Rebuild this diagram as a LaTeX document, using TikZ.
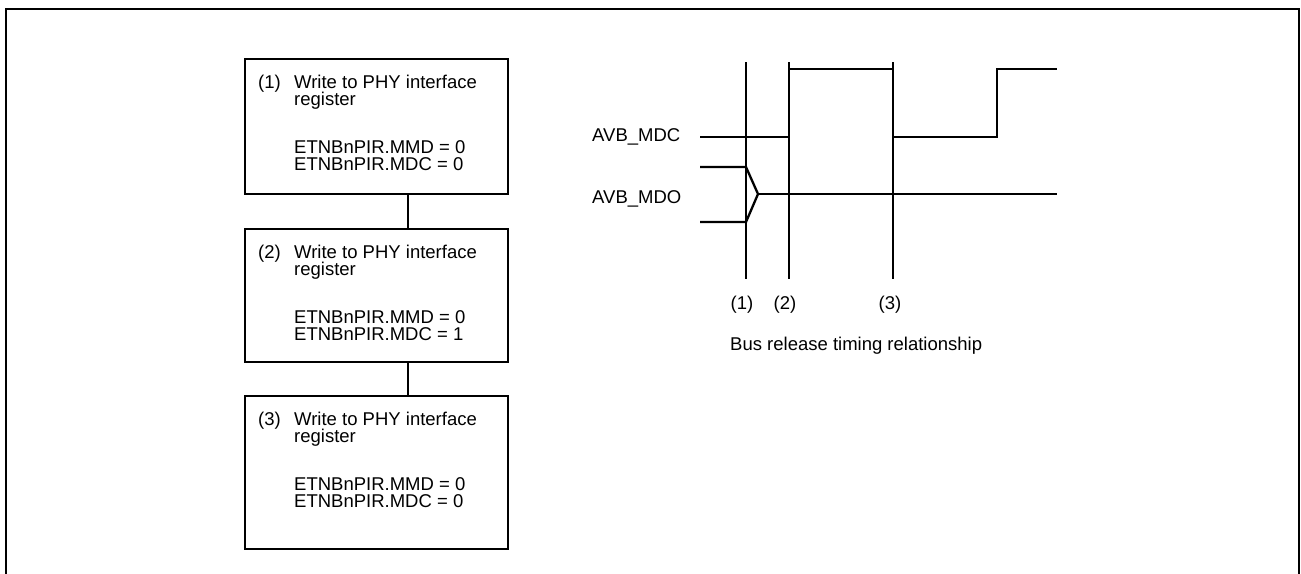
\documentclass[tikz,border=0pt]{standalone}
\usepackage{fontspec}
\setmainfont{Liberation Sans}
\begin{document}
\begin{tikzpicture}[x=1pt,y=-1pt,
  box/.style={draw,line width=2.4pt,minimum width=263pt,inner sep=0pt,outer sep=0pt},
  txt/.style={anchor=base west,inner sep=0pt,font=\fontsize{18.5}{21}\selectfont},
  lbl/.style={anchor=base,inner sep=0pt,font=\fontsize{18.5}{21}\selectfont},
  wave/.style={line width=2.3pt,line join=miter},
  mark line/.style={line width=1.1pt}]
\useasboundingbox (0,0) rectangle (1301,573);
\begin{scope}
\clip (0,0) rectangle (1301,573);
\draw[line width=2.7pt] (6,9) rectangle (1299,620);
\end{scope}

% flow boxes
\node[box,minimum height=135pt] (b1) at (376.5,126.5) {};
\node[box,minimum height=133pt] (b2) at (376.5,295.5) {};
\node[box,minimum height=153pt] (b3) at (376.5,472.5) {};
\draw[line width=2.4pt] ([xshift=31.5pt]b1.south) -- ([xshift=31.5pt]b2.north);
\draw[line width=2.4pt] ([xshift=31.5pt]b2.south) -- ([xshift=31.5pt]b3.north);

\foreach \n/\dy/\v in {1/0/0,2/170/1,3/337/0}{
  \node[txt] (n\n) at (258,88+\dy) {(\n)};
  \node[txt] (w\n) at (294,88+\dy) {Write to PHY interface};
  \node[txt] (r\n) at (294,105+\dy) {register};
  \node[txt] (m\n) at (294,153+\dy) {ETNBnPIR.MMD = 0};
  \node[txt] (c\n) at (294,170+\dy) {ETNBnPIR.MDC = \v};
}

% timing diagram
\draw[mark line] (746,62) -- (746,279);
\draw[mark line] (789,62) -- (789,279);
\draw[mark line] (893,62) -- (893,279);

\node[txt] (mdc) at (592,141) {AVB\_MDC};
\node[txt] (mdo) at (592,203) {AVB\_MDO};

\draw[wave] (700,137) -- (789,137) -- (789,69) -- (893,69) -- (893,137)
  -- (997,137) -- (997,69) -- (1057,69);
\draw[wave] (700,167) -- (746,167) -- (758,194) -- (746,222) -- (700,222);
\draw[wave] (758,194) -- (1057,194);

\node[lbl] (l1) at (742,309) {(1)};
\node[lbl] (l2) at (785,309) {(2)};
\node[lbl] (l3) at (890,309) {(3)};
\node[txt] (cap) at (730,350) {Bus release timing relationship};
\end{tikzpicture}
\end{document}
